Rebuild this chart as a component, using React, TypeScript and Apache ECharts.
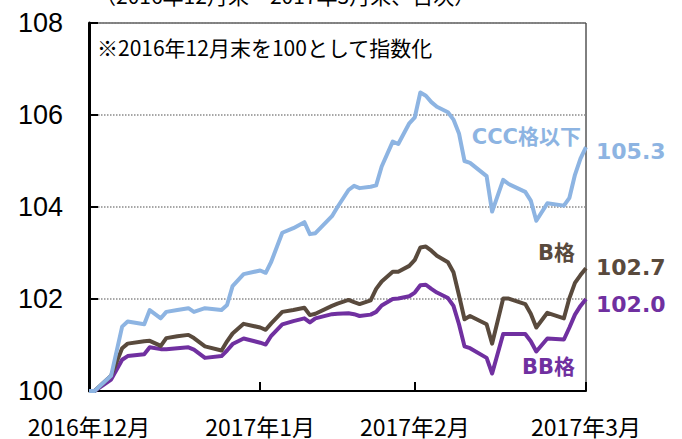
import React, { useEffect, useRef } from "react";
import * as echarts from "echarts";

// days after 2016-12-31
const days = [0, 1, 4, 6, 7, 10, 11, 13, 14, 16, 18, 19, 21, 24, 25, 26, 28, 31, 32, 33, 35, 37, 39, 40, 41, 44, 45, 47, 48, 49, 51, 52, 53, 55, 56, 58, 59, 60, 61, 62, 63, 65, 66, 67, 68, 69, 72, 73, 75, 76, 79, 80, 81, 83, 86, 87, 88, 89, 90];

const cccValues = [100.0, 100.0, 100.33, 101.4, 101.51, 101.45, 101.76, 101.58, 101.72, 101.76, 101.8, 101.72, 101.8, 101.76, 101.87, 102.28, 102.54, 102.62, 102.57, 102.81, 103.44, 103.54, 103.67, 103.41, 103.43, 103.8, 104.0, 104.37, 104.46, 104.41, 104.44, 104.47, 104.88, 105.42, 105.37, 105.82, 105.95, 106.49, 106.42, 106.28, 106.18, 106.06, 105.9, 105.6, 105.0, 104.96, 104.67, 103.9, 104.59, 104.5, 104.33, 104.14, 103.7, 104.08, 104.03, 104.2, 104.7, 105.05, 105.3];

const bValues = [100.0, 100.0, 100.33, 100.93, 101.03, 101.08, 101.09, 100.98, 101.15, 101.19, 101.22, 101.15, 100.97, 100.88, 101.08, 101.25, 101.46, 101.38, 101.33, 101.47, 101.72, 101.76, 101.81, 101.65, 101.68, 101.85, 101.9, 101.98, 101.93, 101.89, 101.97, 102.22, 102.38, 102.59, 102.59, 102.72, 102.85, 103.12, 103.14, 103.05, 102.94, 102.8, 102.58, 102.08, 101.56, 101.63, 101.45, 101.03, 102.01, 102.01, 101.89, 101.68, 101.38, 101.7, 101.58, 102.02, 102.35, 102.52, 102.67];

const bbValues = [100.0, 100.0, 100.25, 100.68, 100.76, 100.8, 100.95, 100.91, 100.91, 100.93, 100.95, 100.9, 100.72, 100.76, 100.88, 101.02, 101.14, 101.05, 101.01, 101.2, 101.45, 101.52, 101.58, 101.49, 101.58, 101.67, 101.68, 101.69, 101.67, 101.63, 101.66, 101.72, 101.86, 102.0, 102.01, 102.06, 102.14, 102.3, 102.31, 102.22, 102.14, 102.02, 101.85, 101.45, 100.97, 100.93, 100.72, 100.38, 101.24, 101.24, 101.24, 101.08, 100.86, 101.14, 101.12, 101.38, 101.66, 101.85, 102.0];

const tickDays = [0, 31, 59, 90];
const tickLabels = ["2016年12月", "2017年1月", "2017年2月", "2017年3月"];

const seriesNames = ["CCC格以下", "B格", "BB格"];
const colors = ["#8db4e2", "#594a3d", "#7030a0"];

const titleText = "（2016年12月末～2017年3月末、日次）";
const noteText = "※2016年12月末を100として指数化";

export default function App() {
  const ref = useRef<HTMLDivElement>(null);
  useEffect(() => {
    if (!ref.current) return;
    const chart = echarts.init(ref.current, null, { renderer: "svg" });
    const pairs = (vals: number[]) => days.map((d, i) => [d, vals[i]]);
    const endLabel = (color: string, dy: number) => ({
      show: true,
      distance: 10,
      offset: [0, dy],
      color,
      fontFamily: "DejaVu Sans",
      fontWeight: "bold",
      fontSize: 22,
      formatter: (p: any) => Number(p.value[1]).toFixed(1),
    });
    const mk = (name: string, vals: number[], color: string, dy: number, z: number) => ({
      name,
      type: "line",
      data: pairs(vals),
      showSymbol: false,
      symbol: "none",
      z,
      lineStyle: { color, width: 4, join: "round" },
      itemStyle: { color },
      endLabel: endLabel(color, dy),
    });
    chart.setOption({
      animation: false,
      grid: {
        left: 89,
        right: 96,
        top: 23,
        bottom: 48,
        show: true,
        borderColor: "#000",
        borderWidth: 1,
        backgroundColor: "transparent",
      },
      xAxis: {
        type: "value",
        min: 0,
        max: 90,
        splitLine: { show: false },
        axisLine: { show: true, lineStyle: { color: "#000", width: 2 } },
        axisTick: {
          show: true,
          inside: true,
          length: 9,
          lineStyle: { color: "#000", width: 2 },
          customValues: tickDays,
        },
        axisLabel: {
          customValues: tickDays,
          margin: 23,
          color: "#000",
          fontSize: 23,
          fontFamily: "Noto Sans CJK JP",
          formatter: (v: number) => {
            const i = tickDays.indexOf(Math.round(v));
            return i >= 0 ? tickLabels[i] : "";
          },
        },
      },
      yAxis: {
        type: "value",
        min: 100,
        max: 108,
        interval: 2,
        axisLine: { show: true, lineStyle: { color: "#000", width: 3 } },
        axisTick: { show: true, inside: true, length: 9, lineStyle: { color: "#000", width: 2 } },
        axisLabel: {
          margin: 26,
          color: "#000",
          fontSize: 27,
          fontFamily: "Liberation Sans",
        },
        splitLine: {
          show: true,
          lineStyle: { color: "#8a8a8a", width: 1.5, type: [1.5, 1.5] },
        },
      },
      series: [
        mk(seriesNames[2], bbValues, colors[2], 5, 2),
        mk(seriesNames[1], bValues, colors[1], -1, 3),
        mk(seriesNames[0], cccValues, colors[0], 4, 4),
      ],
      graphic: [
        {
          type: "text",
          x: 95,
          y: -5,
          style: {
            text: titleText,
            fontSize: 21,
            fontFamily: "Noto Sans CJK JP",
            fill: "#000",
            verticalAlign: "middle",
          },
        },
        {
          type: "text",
          x: 97,
          y: 47,
          style: {
            text: noteText,
            fontSize: 21,
            fontFamily: "Noto Sans CJK JP",
            fill: "#000",
            verticalAlign: "middle",
          },
        },
        {
          type: "text",
          x: 581,
          y: 137,
          style: {
            text: seriesNames[0],
            fontSize: 21,
            fontWeight: "bold",
            fontFamily: "DejaVu Sans, Noto Sans CJK JP",
            fill: colors[0],
            align: "right",
            verticalAlign: "middle",
          },
        },
        {
          type: "text",
          x: 575,
          y: 253,
          style: {
            text: seriesNames[1],
            fontSize: 21,
            fontWeight: "bold",
            fontFamily: "DejaVu Sans, Noto Sans CJK JP",
            fill: colors[1],
            align: "right",
            verticalAlign: "middle",
          },
        },
        {
          type: "text",
          x: 575,
          y: 367,
          style: {
            text: seriesNames[2],
            fontSize: 21,
            fontWeight: "bold",
            fontFamily: "DejaVu Sans, Noto Sans CJK JP",
            fill: colors[2],
            align: "right",
            verticalAlign: "middle",
          },
        },
      ],
    });
    return () => chart.dispose();
  }, []);
  return (
    <div
      ref={ref}
      style={{ position: "fixed", left: 0, top: 0, width: 682, height: 439, background: "#fff" }}
    />
  );
}
